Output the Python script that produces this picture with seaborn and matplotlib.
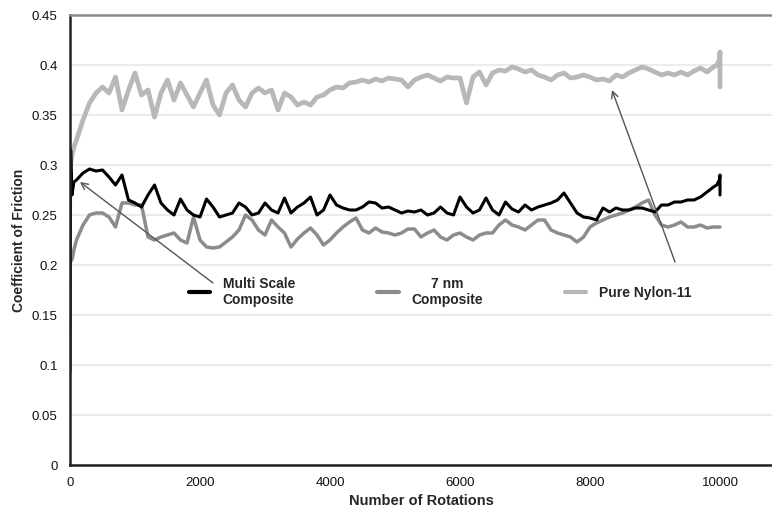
"""Coefficient of friction vs number of rotations for three nylon materials."""

import matplotlib

matplotlib.use("Agg")
import matplotlib.pyplot as plt
import pandas as pd
import seaborn as sns

# rotations sampled every 100, with a few extra points at the start and end
rotations = [0, 10, 30, 60] + list(range(100, 9900, 100)) + [9900, 9950, 9990, 10000, 10000]

multi_scale = [
    0.093, 0.315, 0.270, 0.283,
    0.285, 0.292, 0.296, 0.294, 0.295, 0.288, 0.280, 0.290, 0.265, 0.262,
    0.258, 0.270, 0.280, 0.262, 0.255, 0.250, 0.266, 0.255, 0.250, 0.248,
    0.266, 0.258, 0.248, 0.250, 0.252, 0.262, 0.258, 0.250, 0.252, 0.262,
    0.255, 0.252, 0.267, 0.252, 0.258, 0.262, 0.268, 0.250, 0.255, 0.270,
    0.260, 0.257, 0.255, 0.255, 0.258, 0.263, 0.262, 0.257, 0.258, 0.255,
    0.252, 0.254, 0.253, 0.255, 0.250, 0.252, 0.258, 0.252, 0.250, 0.268,
    0.258, 0.252, 0.255, 0.267, 0.255, 0.250, 0.263, 0.256, 0.253, 0.260,
    0.255, 0.258, 0.260, 0.262, 0.265, 0.272, 0.262, 0.252, 0.248, 0.247,
    0.245, 0.257, 0.253, 0.257, 0.255, 0.255, 0.257, 0.257, 0.255, 0.253,
    0.260, 0.260, 0.263, 0.263, 0.265, 0.265, 0.268, 0.273,
    0.278, 0.280, 0.285, 0.290, 0.270,
]

nm7_composite = [
    0.200, 0.205, 0.205, 0.215,
    0.225, 0.240, 0.250, 0.252, 0.252, 0.248, 0.238, 0.262, 0.262, 0.260,
    0.260, 0.228, 0.225, 0.228, 0.230, 0.232, 0.225, 0.222, 0.248, 0.225,
    0.218, 0.217, 0.218, 0.223, 0.228, 0.235, 0.250, 0.245, 0.235, 0.230,
    0.245, 0.238, 0.232, 0.218, 0.226, 0.232, 0.237, 0.230, 0.220, 0.225,
    0.232, 0.238, 0.243, 0.247, 0.235, 0.232, 0.237, 0.233, 0.232, 0.230,
    0.232, 0.236, 0.236, 0.228, 0.232, 0.235, 0.228, 0.225, 0.230, 0.232,
    0.228, 0.225, 0.230, 0.232, 0.232, 0.240, 0.245, 0.240, 0.238, 0.235,
    0.240, 0.245, 0.245, 0.235, 0.232, 0.230, 0.228, 0.223, 0.228, 0.238,
    0.242, 0.245, 0.248, 0.250, 0.252, 0.255, 0.258, 0.262, 0.265, 0.250,
    0.240, 0.238, 0.240, 0.243, 0.238, 0.238, 0.240, 0.237,
    0.238, 0.238, 0.238, 0.238, 0.238,
]

pure_nylon = [
    0.300, 0.300, 0.310, 0.318,
    0.325, 0.345, 0.362, 0.372, 0.378, 0.372, 0.388, 0.355, 0.375, 0.392,
    0.370, 0.375, 0.348, 0.372, 0.385, 0.365, 0.382, 0.370, 0.358, 0.372,
    0.385, 0.360, 0.350, 0.372, 0.380, 0.365, 0.358, 0.372, 0.377, 0.372,
    0.375, 0.355, 0.372, 0.368, 0.360, 0.363, 0.360, 0.368, 0.370, 0.375,
    0.378, 0.377, 0.382, 0.383, 0.385, 0.383, 0.386, 0.384, 0.387, 0.386,
    0.385, 0.378, 0.385, 0.388, 0.390, 0.387, 0.384, 0.388, 0.387, 0.387,
    0.362, 0.388, 0.393, 0.380, 0.392, 0.395, 0.394, 0.398, 0.396, 0.393,
    0.395, 0.390, 0.388, 0.385, 0.390, 0.392, 0.387, 0.388, 0.390, 0.388,
    0.385, 0.386, 0.384, 0.390, 0.388, 0.392, 0.395, 0.398, 0.396, 0.393,
    0.390, 0.392, 0.390, 0.393, 0.390, 0.394, 0.397, 0.393,
    0.398, 0.400, 0.405, 0.413, 0.378,
]

series_labels = ["Multi Scale\nComposite", "7 nm\nComposite", "Pure Nylon-11"]
series_colors = ["#000000", "#8c8c8c", "#b8b8b8"]
series_widths = [2.2, 2.5, 3.4]


def main() -> None:
    sns.set_theme(style="white")
    plt.rcParams["font.family"] = ["Liberation Sans", "DejaVu Sans"]

    fig = plt.figure(figsize=(7.72, 5.12), dpi=100)
    ax = fig.add_axes([70 / 772, 47 / 512, 702 / 772, 450 / 512])

    values = [multi_scale, nm7_composite, pure_nylon]
    handles = {}
    # draw lightest first so the darker lines sit on top
    for idx in [2, 1, 0]:
        frame = pd.DataFrame({"rotations": rotations, "cof": values[idx]})
        sns.lineplot(
            data=frame,
            x="rotations",
            y="cof",
            estimator=None,
            sort=False,
            color=series_colors[idx],
            linewidth=series_widths[idx],
            ax=ax,
        )
        handles[idx] = ax.lines[-1]

    ax.set_xlim(0, 10800)
    ax.set_ylim(0, 0.45)
    ax.set_xticks([0, 2000, 4000, 6000, 8000, 10000])
    ax.set_yticks([0, 0.05, 0.1, 0.15, 0.2, 0.25, 0.3, 0.35, 0.4, 0.45])
    ax.set_yticklabels(["0", "0.05", "0.1", "0.15", "0.2", "0.25", "0.3", "0.35", "0.4", "0.45"])
    ax.yaxis.grid(True, color="#e8e8e8", linewidth=1.2)
    ax.xaxis.grid(False)
    ax.set_axisbelow(True)

    for side in ["left", "bottom"]:
        ax.spines[side].set_color("#222222")
        ax.spines[side].set_linewidth(1.8)
    ax.spines["top"].set_color("#8a8a8a")
    ax.spines["top"].set_linewidth(1.8)
    ax.spines["right"].set_visible(False)

    ax.tick_params(axis="both", which="major", direction="out", length=3, width=1,
                   color="#555555", labelsize=9.5, labelcolor="#111111", pad=6)
    ax.tick_params(axis="x", pad=6)

    ax.set_xlabel("Number of Rotations", fontsize=10.5, fontweight="bold", labelpad=3)
    ax.set_ylabel("Coefficient of Friction", fontsize=10, fontweight="bold", labelpad=4)

    leg = ax.legend(
        [handles[0], handles[1], handles[2]],
        series_labels,
        ncol=3,
        loc="center",
        bbox_to_anchor=(0.527, 0.385),
        frameon=False,
        handlelength=1.55,
        handletextpad=0.9,
        columnspacing=5.9,
        prop={"weight": "bold", "size": 10},
    )
    for line in leg.get_lines():
        line.set_linewidth(3.0)
    texts = leg.get_texts()
    texts[0].set_multialignment("left")
    texts[1].set_multialignment("center")

    arrow_style = dict(arrowstyle="->", color="#555555", lw=1.0, shrinkA=0, shrinkB=0)
    ax.annotate("", xy=(154, 0.283), xytext=(2200, 0.182), arrowprops=arrow_style)
    ax.annotate("", xy=(8338, 0.375), xytext=(9308, 0.203), arrowprops=arrow_style)

    fig.savefig("out.png", dpi=100)
    plt.close(fig)


if __name__ == "__main__":
    main()
